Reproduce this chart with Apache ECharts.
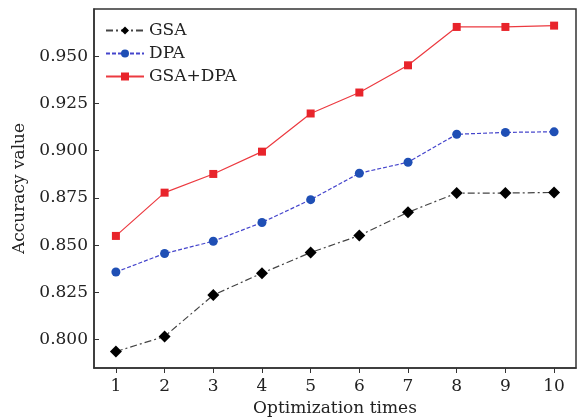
<!DOCTYPE html>
<html>
<head>
  <meta charset="UTF-8">
  <title>Accuracy vs optimization times</title>
  <style>
    html, body { margin: 0; padding: 0; background: #fff; }
    #chart { width: 580px; height: 417px; }
  </style>
  <script type="text/javascript" src="https://cdn.jsdelivr.net/npm/echarts@6/dist/echarts.min.js"></script>
</head>
<body>
<div id="chart"></div>
<script>
  var times = [1, 2, 3, 4, 5, 6, 7, 8, 9, 10];
  var gsa = [0.7937, 0.8017, 0.8236, 0.8352, 0.8461, 0.8551, 0.8674, 0.8776, 0.8776, 0.8779];
  var dpa = [0.8358, 0.8456, 0.8521, 0.8620, 0.8741, 0.8881, 0.8939, 0.9087, 0.9097, 0.9100];
  var gsaDpa = [0.8549, 0.8778, 0.8877, 0.8995, 0.9197, 0.9308, 0.9452, 0.9655, 0.9655, 0.9662];
  var yTicks = [0.800, 0.825, 0.850, 0.875, 0.900, 0.925, 0.950];

  function pairs(arr) {
    var out = [];
    for (var i = 0; i < times.length; i++) {
      out.push([times[i], arr[i]]);
    }
    return out;
  }

  var font = '"DejaVu Serif", "Liberation Serif", serif';
  var myChart = echarts.init(document.getElementById('chart'));
  var option = {
    backgroundColor: '#fff',
    animation: false,
    textStyle: { fontFamily: font },
    grid: {
      left: 94, right: 4, top: 9, bottom: 49,
      outerBoundsMode: 'none',
      show: true,
      borderColor: '#333',
      borderWidth: 1.5
    },
    legend: {
      left: 100, top: 17,
      orient: 'vertical',
      itemGap: 6,
      itemWidth: 38,
      itemHeight: 10,
      textStyle: { fontFamily: font, fontSize: 17, color: '#222' },
      data: ['GSA', 'DPA', 'GSA+DPA']
    },
    xAxis: {
      type: 'value',
      min: 0.55, max: 10.45,
      name: 'Optimization times',
      nameLocation: 'middle',
      nameGap: 29,
      nameTextStyle: { fontFamily: font, fontSize: 17, color: '#222' },
      splitLine: { show: false },
      axisLine: { lineStyle: { color: '#333', width: 1.5 } },
      axisTick: { customValues: times, length: 5, lineStyle: { color: '#333' } },
      axisLabel: { customValues: times, fontFamily: font, fontSize: 17, color: '#222', margin: 10 }
    },
    yAxis: {
      type: 'value',
      min: 0.785, max: 0.975,
      name: 'Accuracy value',
      nameLocation: 'middle',
      nameGap: 63,
      nameTextStyle: { fontFamily: font, fontSize: 17, color: '#222' },
      splitLine: { show: false },
      axisLine: { lineStyle: { color: '#333', width: 1.5 } },
      axisTick: { customValues: yTicks, inside: true, length: 5, lineStyle: { color: '#333' } },
      axisLabel: {
        customValues: yTicks, fontFamily: font, fontSize: 17, color: '#222', margin: 6,
        formatter: function (v) { return v.toFixed(3); }
      }
    },
    series: [{
      name: 'GSA',
      type: 'line',
      data: pairs(gsa),
      symbol: 'diamond',
      symbolSize: 12,
      itemStyle: { color: '#000' },
      lineStyle: { color: '#444', width: 1.2, type: [7, 3, 2, 3] }
    }, {
      name: 'DPA',
      type: 'line',
      data: pairs(dpa),
      symbol: 'circle',
      symbolSize: 9,
      itemStyle: { color: '#1f4fb5' },
      lineStyle: { color: '#4545cc', width: 1.2, type: [4, 2] }
    }, {
      name: 'GSA+DPA',
      type: 'line',
      data: pairs(gsaDpa),
      symbol: 'rect',
      symbolSize: 8,
      itemStyle: { color: '#e8242b' },
      lineStyle: { color: '#ec3a40', width: 1.2 }
    }]
  };
  myChart.setOption(option);
</script>
</body>
</html>
